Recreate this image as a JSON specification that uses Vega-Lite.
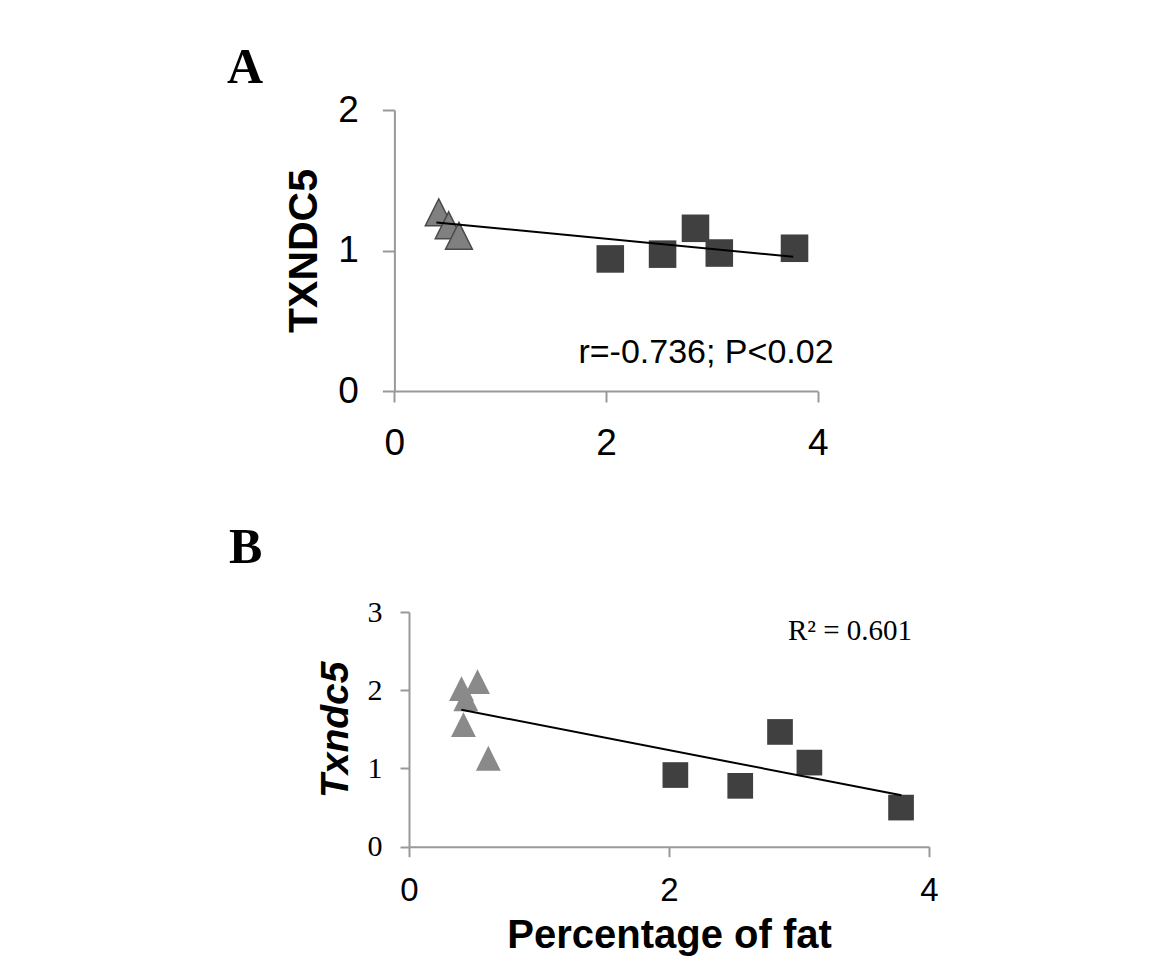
{
  "$schema": "https://vega.github.io/schema/vega-lite/v6.json",
  "background": "white",
  "padding": {"left": 227, "top": 43, "right": 10, "bottom": 2},
  "spacing": 62,
  "config": {
    "view": {"stroke": null},
    "axis": {"grid": false, "domainColor": "#999999", "tickColor": "#999999", "domainWidth": 2, "tickWidth": 2, "labelColor": "black", "titleColor": "black", "labelFlush": false, "labelOverlap": false}
  },
  "datasets": {
    "pointsA": [
      {"fat": 0.419, "value": 1.272, "group": "low-fat"},
      {"fat": 0.513, "value": 1.18, "group": "low-fat"},
      {"fat": 0.61, "value": 1.105, "group": "low-fat"},
      {"fat": 2.04, "value": 0.94, "group": "high-fat"},
      {"fat": 2.534, "value": 0.974, "group": "high-fat"},
      {"fat": 2.845, "value": 1.158, "group": "high-fat"},
      {"fat": 3.07, "value": 0.982, "group": "high-fat"},
      {"fat": 3.781, "value": 1.016, "group": "high-fat"}
    ],
    "trendA": [
      {"fat": 0.397, "value": 1.2},
      {"fat": 3.768, "value": 0.956}
    ],
    "noteA": [{"fat": 4.15, "value": 0.27, "label": "r=-0.736; P<0.02"}],
    "pointsB": [
      {"fat": 0.437, "value": 1.89, "group": "low-fat"},
      {"fat": 0.404, "value": 2.02, "group": "low-fat"},
      {"fat": 0.527, "value": 2.11, "group": "low-fat"},
      {"fat": 0.419, "value": 1.56, "group": "low-fat"},
      {"fat": 0.61, "value": 1.13, "group": "low-fat"},
      {"fat": 2.049, "value": 0.916, "group": "high-fat"},
      {"fat": 2.548, "value": 0.778, "group": "high-fat"},
      {"fat": 2.854, "value": 1.467, "group": "high-fat"},
      {"fat": 3.08, "value": 1.075, "group": "high-fat"},
      {"fat": 3.785, "value": 0.5, "group": "high-fat"}
    ],
    "trendB": [
      {"fat": 0.403, "value": 1.75},
      {"fat": 3.788, "value": 0.657}
    ],
    "noteB": [{"fat": 3.87, "value": 2.755, "label": "R² = 0.601"}]
  },
  "vconcat": [
    {
      "title": {"text": "A", "anchor": "start", "frame": "group", "font": "Liberation Serif", "fontWeight": "bold", "fontSize": 50, "dx": -182, "offset": -2, "color": "black"},
      "width": 408.7,
      "height": 281,
      "encoding": {
        "x": {"field": "fat", "type": "quantitative", "scale": {"domain": [0, 4], "nice": false, "range": [-14.6, 408.7]},
              "axis": {"values": [0, 2, 4], "format": "d", "title": null, "tickSize": 11, "labelPadding": 23, "labelFont": "Liberation Sans", "labelFontSize": 37}},
        "y": {"field": "value", "type": "quantitative", "scale": {"domain": [0, 2], "nice": false},
              "axis": {"values": [0, 1, 2], "labelExpr": "format(datum.value, '.0f')", "offset": 14.6, "title": "TXNDC5", "titleFont": "Liberation Sans", "titleFontWeight": "bold", "titleFontSize": 41, "titlePadding": 12, "tickSize": 12, "labelPadding": 24, "labelFont": "Liberation Sans", "labelFontSize": 37}}
      },
      "layer": [
        {"data": {"name": "pointsA"}, "transform": [{"filter": "datum.group === 'high-fat'"}],
         "mark": {"type": "point", "shape": "square", "filled": true, "size": 760, "color": "#404040", "opacity": 1}},
        {"data": {"name": "pointsA"}, "transform": [{"filter": "datum.group === 'low-fat'"}],
         "mark": {"type": "point", "shape": "M0,-1L1,1L-1,1Z", "filled": true, "size": 720, "fill": "#808080", "stroke": "#4a4a4a", "strokeWidth": 1.5, "opacity": 1}},
        {"data": {"name": "trendA"}, "mark": {"type": "line", "color": "black", "strokeWidth": 2}},
        {"data": {"name": "noteA"}, "mark": {"type": "text", "align": "right", "baseline": "middle", "font": "Liberation Sans", "fontSize": 34, "color": "black"},
         "encoding": {"text": {"field": "label"}}}
      ]
    },
    {
      "title": {"text": "B", "anchor": "start", "frame": "group", "font": "Liberation Serif", "fontWeight": "bold", "fontSize": 50, "dx": -180, "offset": 24, "color": "black"},
      "width": 520,
      "height": 234.7,
      "encoding": {
        "x": {"field": "fat", "type": "quantitative", "scale": {"domain": [0, 4], "nice": false},
              "axis": {"values": [0, 2, 4], "format": "d", "title": "Percentage of fat", "titleFont": "Liberation Sans", "titleFontWeight": "bold", "titleFontSize": 40, "titlePadding": 8, "tickSize": 10, "labelPadding": 18, "labelFont": "Liberation Sans", "labelFontSize": 33}},
        "y": {"field": "value", "type": "quantitative", "scale": {"domain": [0, 3], "nice": false},
              "axis": {"values": [0, 1, 2, 3], "format": "d", "title": "Txndc5", "titleFont": "Liberation Sans", "titleFontWeight": "bold", "titleFontStyle": "italic", "titleFontSize": 39, "titlePadding": 12, "tickSize": 9, "labelPadding": 18, "labelFont": "Liberation Serif", "labelFontSize": 30}}
      },
      "layer": [
        {"data": {"name": "pointsB"}, "transform": [{"filter": "datum.group === 'low-fat'"}],
         "mark": {"type": "point", "shape": "M0,-1L1,1L-1,1Z", "filled": true, "size": 620, "color": "#8a8a8a", "opacity": 1}},
        {"data": {"name": "pointsB"}, "transform": [{"filter": "datum.group === 'high-fat'"}],
         "mark": {"type": "point", "shape": "square", "filled": true, "size": 660, "color": "#404040", "opacity": 1}},
        {"data": {"name": "trendB"}, "mark": {"type": "line", "color": "black", "strokeWidth": 2}},
        {"data": {"name": "noteB"}, "mark": {"type": "text", "align": "right", "baseline": "middle", "font": "Liberation Serif", "fontSize": 29, "color": "black"},
         "encoding": {"text": {"field": "label"}}}
      ]
    }
  ]
}
